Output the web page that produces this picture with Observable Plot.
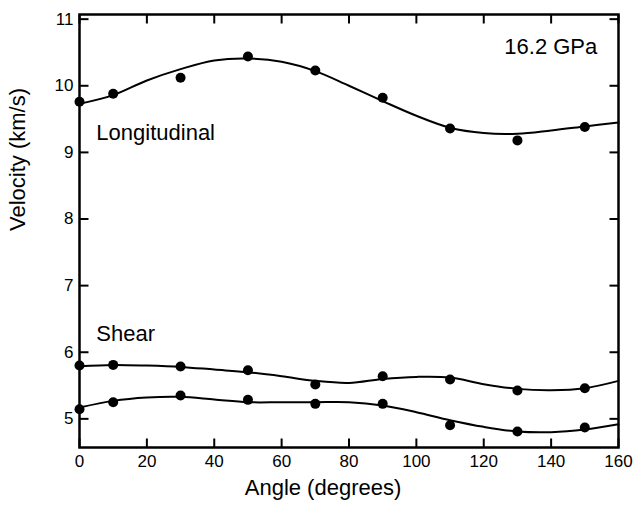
<!DOCTYPE html>
<html><head><meta charset="utf-8">
<script src="https://cdn.jsdelivr.net/npm/d3@7"></script>
<script src="https://cdn.jsdelivr.net/npm/@observablehq/plot@0.6"></script>
<style>body{margin:0;background:#fff}#chart svg{display:block}</style>
</head><body><div id="chart"></div>
<script>
// measured angles (degrees)
const angles = [0, 10, 30, 50, 70, 90, 110, 130, 150];
// measured velocities (km/s)
const longitudinal = [9.76, 9.88, 10.12, 10.44, 10.23, 9.82, 9.36, 9.18, 9.38];
const shearFast = [5.80, 5.81, 5.785, 5.73, 5.515, 5.64, 5.59, 5.425, 5.46];
const shearSlow = [5.145, 5.25, 5.35, 5.285, 5.225, 5.225, 4.905, 4.81, 4.87];
// fitted curves
const fitAngles = [0, 10, 20, 30, 40, 50, 60, 70, 80, 90, 100, 110, 120, 130, 140, 150, 160];
const fitLongitudinal = [9.73, 9.86, 10.08, 10.25, 10.38, 10.41, 10.36, 10.22, 10.0, 9.77, 9.55, 9.37, 9.29, 9.28, 9.33, 9.39, 9.45];
const fitShearFast = [5.79, 5.81, 5.80, 5.78, 5.74, 5.70, 5.64, 5.57, 5.54, 5.60, 5.63, 5.62, 5.52, 5.45, 5.43, 5.46, 5.57];
const fitShearSlow = [5.17, 5.27, 5.32, 5.33, 5.29, 5.25, 5.25, 5.25, 5.25, 5.20, 5.10, 4.98, 4.88, 4.81, 4.80, 4.84, 4.92];
const xTicks = [0, 20, 40, 60, 80, 100, 120, 140, 160];
const yTicks = [5, 6, 7, 8, 9, 10, 11];
const xLabel = "Angle (degrees)";
const yLabel = "Velocity (km/s)";
const pressureLabel = "16.2 GPa";
const labelLong = "Longitudinal";
const labelShear = "Shear";

const seriesList = [
  {name: "longitudinal", pts: longitudinal, fit: fitLongitudinal},
  {name: "shearFast", pts: shearFast, fit: fitShearFast},
  {name: "shearSlow", pts: shearSlow, fit: fitShearSlow}
];
const points = seriesList.flatMap(s => angles.map((a, i) => ({series: s.name, angle: a, v: s.pts[i]})));
const fits = seriesList.flatMap(s => fitAngles.map((a, i) => ({series: s.name, angle: a, v: s.fit[i]})));

const W = 634, H = 508, mL = 79, mR = 16, mT = 14, mB = 61;
const innerW = W - mL - mR, innerH = H - mT - mB, tick = 9;
const xDomain = [0, 160], yDomain = [4.57, 11.07];
// tick length converted from pixels to data units
const xTickLen = tick * (xDomain[1] - xDomain[0]) / innerW;
const yTickLen = tick * (yDomain[1] - yDomain[0]) / innerH;
const font = "Liberation Sans, Arial, Helvetica, sans-serif";
const tickStyle = {stroke: "#000", strokeWidth: 2, curve: "linear"};

const chart = Plot.plot({
  width: W, height: H,
  marginLeft: mL, marginRight: mR, marginTop: mT, marginBottom: mB,
  style: {fontFamily: font, background: "#fff"},
  x: {domain: xDomain},
  y: {domain: yDomain},
  marks: [
    // inward ticks on all four sides
    Plot.link(xTicks, {x1: d => d, x2: d => d, y1: () => yDomain[0], y2: () => yDomain[0] + yTickLen, ...tickStyle}),
    Plot.link(xTicks, {x1: d => d, x2: d => d, y1: () => yDomain[1], y2: () => yDomain[1] - yTickLen, ...tickStyle}),
    Plot.link(yTicks, {y1: d => d, y2: d => d, x1: () => xDomain[0], x2: () => xDomain[0] + xTickLen, ...tickStyle}),
    Plot.link(yTicks, {y1: d => d, y2: d => d, x1: () => xDomain[1], x2: () => xDomain[1] - xTickLen, ...tickStyle}),
    Plot.line(fits, {x: "angle", y: "v", z: "series", curve: "catmull-rom", stroke: "#000", strokeWidth: 2}),
    Plot.dot(points, {x: "angle", y: "v", r: 5, fill: "#000", stroke: "none"}),
    // tick labels
    Plot.axisX(xTicks, {anchor: "bottom", tickSize: 0, tickPadding: 7, label: null, fontSize: 17, tickFormat: "d"}),
    Plot.axisY(yTicks, {anchor: "left", tickSize: 0, tickPadding: 6, label: null, fontSize: 17, tickFormat: "d"}),
    Plot.frame({stroke: "#000", strokeWidth: 2.5}),
    // axis titles
    Plot.text([xLabel], {frameAnchor: "bottom", dx: -26, dy: 47, fontSize: 22, fill: "#000"}),
    Plot.text([yLabel], {frameAnchor: "left", dx: -62, rotate: -90, fontSize: 22, fill: "#000"}),
    // annotations
    Plot.text([pressureLabel], {x: 153.7, y: 10.585, textAnchor: "end", fontSize: 22, fill: "#000"}),
    Plot.text([labelLong], {x: 5.0, y: 9.295, textAnchor: "start", fontSize: 22, fill: "#000"}),
    Plot.text([labelShear], {x: 5.0, y: 6.28, textAnchor: "start", fontSize: 22, fill: "#000"})
  ]
});
document.getElementById("chart").append(chart);
</script>
</body></html>
